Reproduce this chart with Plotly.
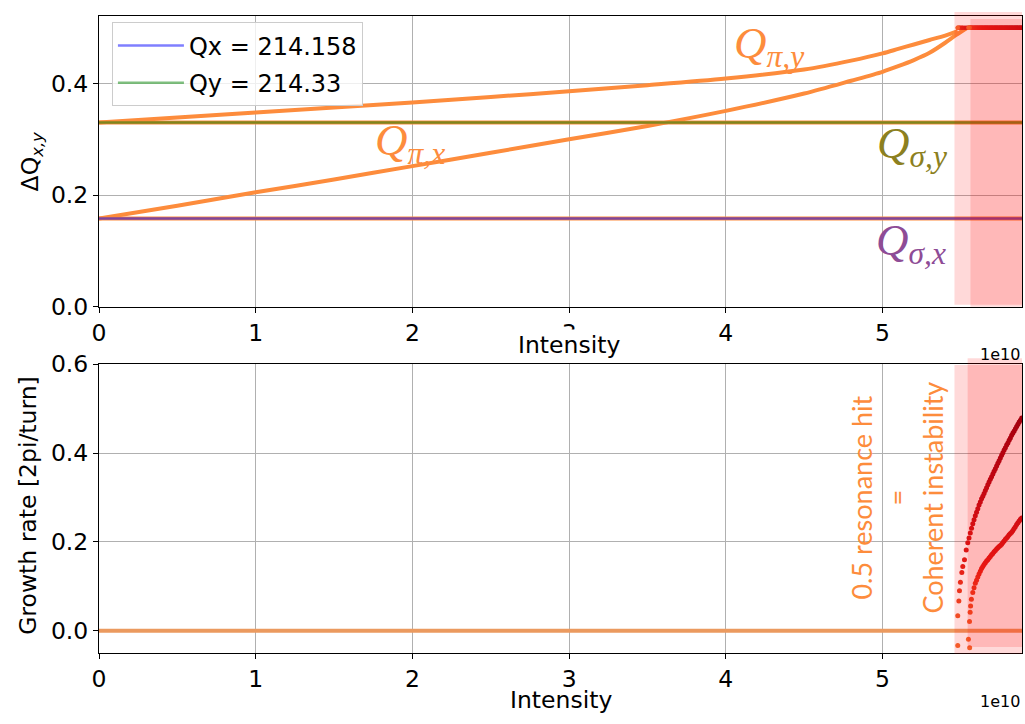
import plotly.graph_objects as go

# ---------------- data ----------------
# intensities in units of 1e10 particles
I_MAX = 5.89
span_I = [0.0, I_MAX]

# fractional tunes
Qx_frac = 0.158
Qy_frac = 0.33
RESONANCE = 0.5

# pi-mode tunes (stable branch)
qpi_y_I = [0.0, 0.5, 1.0, 1.5, 2.0, 2.5, 3.0, 3.5, 4.0, 4.5, 4.8, 5.0, 5.1, 5.2, 5.3, 5.4, 5.48]
qpi_y = [0.330, 0.339, 0.348, 0.357, 0.366, 0.376, 0.386, 0.397, 0.409, 0.425,
         0.441, 0.454, 0.462, 0.470, 0.478, 0.486, 0.494]

qpi_x_I = [0.0, 0.5, 1.0, 1.5, 2.0, 2.5, 3.0, 3.5, 4.0, 4.5, 4.8, 5.0, 5.1, 5.2, 5.3,
           5.4, 5.47, 5.54]
qpi_x = [0.158, 0.181, 0.205, 0.228, 0.252, 0.276, 0.300, 0.324, 0.351, 0.382,
         0.405, 0.421, 0.431, 0.442, 0.455, 0.473, 0.487, 0.500]

# growth rates of the unstable modes [2pi/turn]
upper_I = [5.480, 5.487, 5.491, 5.497, 5.506, 5.512, 5.523, 5.534, 5.544,
           5.552, 5.560, 5.568, 5.576, 5.584, 5.592, 5.600, 5.608, 5.616, 5.624,
           5.632, 5.640, 5.648, 5.656, 5.664, 5.672, 5.680, 5.688, 5.696, 5.704,
           5.712, 5.720, 5.728, 5.736, 5.744, 5.752, 5.760, 5.768, 5.776, 5.784,
           5.792, 5.800, 5.808, 5.816, 5.824, 5.832, 5.840, 5.848, 5.856, 5.864,
           5.872, 5.880, 5.888]
upper_rate = [0.034, 0.067, 0.090, 0.109, 0.131, 0.145, 0.160, 0.182, 0.198,
              0.209, 0.220, 0.231, 0.241, 0.250, 0.259, 0.267, 0.275, 0.283, 0.290,
              0.297, 0.303, 0.309, 0.316, 0.322, 0.329, 0.335, 0.341, 0.347, 0.353,
              0.359, 0.365, 0.371, 0.377, 0.383, 0.389, 0.395, 0.401, 0.407, 0.412,
              0.418, 0.423, 0.429, 0.434, 0.440, 0.445, 0.450, 0.455, 0.460, 0.465,
              0.470, 0.474, 0.479]

lower_I = [5.555, 5.559, 5.562, 5.567, 5.576,
           5.584, 5.592, 5.600, 5.608, 5.616, 5.624, 5.632, 5.640, 5.648, 5.656,
           5.664, 5.672, 5.680, 5.688, 5.696, 5.704, 5.712, 5.720, 5.728, 5.736,
           5.744, 5.752, 5.760, 5.768, 5.776, 5.784, 5.792, 5.800, 5.808, 5.816,
           5.824, 5.832, 5.840, 5.848, 5.856, 5.864, 5.872, 5.880, 5.888]
lower_rate = [0.021, 0.042, 0.056, 0.071, 0.086,
              0.097, 0.107, 0.114, 0.121, 0.128, 0.134, 0.140, 0.145, 0.149, 0.153,
              0.157, 0.160, 0.164, 0.167, 0.171, 0.174, 0.178, 0.181, 0.184, 0.187,
              0.190, 0.192, 0.195, 0.199, 0.202, 0.206, 0.209, 0.212, 0.216, 0.219,
              0.222, 0.226, 0.230, 0.234, 0.239, 0.243, 0.247, 0.251, 0.254]

damped_I = [5.480, 5.548, 5.556]
damped_rate = [-0.033, -0.019, -0.038]

# instability onset bands
band_light_I = 5.459
band_dark_top_I = 5.561
band_dark_bot_I = 5.543

# ---------------- styling ----------------
ORANGE = "#fd8c3c"
ORANGE_FLAT = "#eb9a5f"
BLUE_A = "rgba(0,0,255,0.5)"
GREEN_A = "rgba(0,128,0,0.5)"
RED_SCALE = [[0.0, "#f26b30"], [0.3, "#e0201a"], [0.6, "#b50d1c"], [1.0, "#7e0014"]]
FS = 23.5
TICK_FONT = dict(family="DejaVu Sans", size=FS, color="black")
Q_FONT = "Liberation Serif"

fig = go.Figure()

# --- top panel: tunes ---
for q in (Qx_frac, Qy_frac):
    fig.add_trace(go.Scatter(x=span_I, y=[q, q], mode="lines",
                             line=dict(color=ORANGE, width=4),
                             showlegend=False, hoverinfo="skip",
                             xaxis="x", yaxis="y"))
fig.add_trace(go.Scatter(x=qpi_y_I, y=qpi_y, mode="lines",
                         line=dict(color=ORANGE, width=4, shape="spline", smoothing=0.8),
                         showlegend=False, xaxis="x", yaxis="y"))
fig.add_trace(go.Scatter(x=qpi_x_I, y=qpi_x, mode="lines",
                         line=dict(color=ORANGE, width=4, shape="spline", smoothing=0.8),
                         showlegend=False, xaxis="x", yaxis="y"))
fig.add_trace(go.Scatter(x=span_I, y=[Qx_frac, Qx_frac], mode="lines",
                         line=dict(color=BLUE_A, width=2.5),
                         name="Qx = 214.158", legendgroup="qx",
                         xaxis="x", yaxis="y"))
fig.add_trace(go.Scatter(x=span_I, y=[Qy_frac, Qy_frac], mode="lines",
                         line=dict(color=GREEN_A, width=2.5),
                         name="Qy = 214.33", legendgroup="qy",
                         xaxis="x", yaxis="y"))

unstable_I = upper_I + lower_I + damped_I
unstable_rate = upper_rate + lower_rate + damped_rate
fig.add_trace(go.Scatter(x=unstable_I, y=[RESONANCE] * len(unstable_I), mode="markers",
                         marker=dict(size=4.5, color=unstable_rate, colorscale=RED_SCALE,
                                     cmin=0, cmax=0.5, line=dict(width=0)),
                         showlegend=False, xaxis="x", yaxis="y"))

# --- bottom panel: growth rates ---
fig.add_trace(go.Scatter(x=span_I, y=[0, 0], mode="lines",
                         line=dict(color=ORANGE_FLAT, width=4),
                         showlegend=False, xaxis="x2", yaxis="y2"))
for xs, ys in ((upper_I, upper_rate), (lower_I, lower_rate), (damped_I, damped_rate)):
    fig.add_trace(go.Scatter(x=xs, y=ys, mode="markers",
                             marker=dict(size=5, color=ys, colorscale=RED_SCALE,
                                         cmin=0, cmax=0.5, line=dict(width=0)),
                             showlegend=False, xaxis="x2", yaxis="y2"))

# shaded instability bands
band = dict(type="rect", fillcolor="rgba(255,0,0,0.15)", line=dict(width=0), layer="above")
fig.add_shape(**band, xref="x", yref="y domain", x0=band_light_I, x1=I_MAX, y0=0.007, y1=1.014)
fig.add_shape(**band, xref="x", yref="y domain", x0=band_dark_top_I, x1=I_MAX, y0=0.0, y1=0.99)
fig.add_shape(**band, xref="x2", yref="y2 domain", x0=band_light_I, x1=I_MAX, y0=-0.003, y1=0.997)
fig.add_shape(**band, xref="x2", yref="y2 domain", x0=band_dark_bot_I, x1=I_MAX, y0=0.021, y1=1.021)

axis_common = dict(showline=True, linecolor="black", linewidth=1, mirror=True,
                   ticks="outside", ticklen=5, tickcolor="black", tickfont=TICK_FONT,
                   showgrid=True, gridcolor="#b0b0b0", gridwidth=1, zeroline=False)

fig.update_layout(
    width=1025, height=724,
    margin=dict(l=99, r=2, t=11, b=71),
    paper_bgcolor="white", plot_bgcolor="white",
    xaxis=dict(**axis_common, domain=[0, 1], anchor="y", range=[0, I_MAX],
               tickvals=[0, 1, 2, 3, 4, 5]),
    yaxis=dict(**axis_common, domain=[0.5436, 1], anchor="x", range=[0, 0.521],
               tickvals=[0, 0.2, 0.4], tickformat=".1f"),
    xaxis2=dict(**axis_common, domain=[0, 1], anchor="y2", range=[0, I_MAX],
                tickvals=[0, 1, 2, 3, 4, 5]),
    yaxis2=dict(**axis_common, domain=[0, 0.4533], anchor="x2", range=[-0.05, 0.6],
                tickvals=[0, 0.2, 0.4, 0.6], tickformat=".1f"),
    legend=dict(x=0.014, y=0.99, xanchor="left", yanchor="top",
                bgcolor="rgba(255,255,255,0.8)", bordercolor="#cccccc", borderwidth=1,
                font=dict(family="DejaVu Sans", size=24, color="black"),
                itemwidth=66, tracegroupgap=3),
    showlegend=True,
)

# curve labels
labels = [
    ("<i>Q</i><sub><i>π,y</i></sub>", 4.273, 0.468, ORANGE),
    ("<i>Q</i><sub><i>π,x</i></sub>", 1.983, 0.294, ORANGE),
    ("<i>Q</i><sub><i>σ,y</i></sub>", 5.185, 0.288, "#8c8020"),
    ("<i>Q</i><sub><i>σ,x</i></sub>", 5.179, 0.114, "#8e4c96"),
]
for txt, xv, yv, col in labels:
    fig.add_annotation(text=txt, x=xv, y=yv, xref="x", yref="y", showarrow=False,
                       xanchor="center", yanchor="middle",
                       font=dict(family=Q_FONT, size=45, color=col))

# axis titles
TITLE_FONT = dict(family="DejaVu Sans", size=FS, color="black")
fig.add_annotation(text="Intensity", x=3.0, y=-0.13, xref="x", yref="y domain",
                   xanchor="center", yanchor="middle", showarrow=False,
                   bgcolor="white", borderpad=1, font=TITLE_FONT)
fig.add_annotation(text="Intensity", x=0.5, y=-0.162, xref="x2 domain", yref="y2 domain",
                   xanchor="center", yanchor="middle", showarrow=False, font=TITLE_FONT)
fig.add_annotation(text="ΔQ<sub><i>x,y</i></sub>", x=-0.0736, y=0.5, xref="paper",
                   yref="y domain", xanchor="center", yanchor="middle",
                   showarrow=False, textangle=-90, font=TITLE_FONT)
fig.add_annotation(text="Growth rate [2pi/turn]", x=-0.0768, y=0.51, xref="paper",
                   yref="y2 domain", xanchor="center", yanchor="middle",
                   showarrow=False, textangle=-90, font=TITLE_FONT)
# offset (exponent) labels
for yref, yv in (("y domain", -0.164), ("y2 domain", -0.168)):
    fig.add_annotation(text="1e10", x=1.0, y=yv, xref="paper", yref=yref,
                       xanchor="right", yanchor="middle", showarrow=False,
                       font=dict(family="DejaVu Sans", size=16, color="black"))

# instability note
fig.add_annotation(text="0.5 resonance hit<br>=<br>Coherent instability",
                   x=5.089, y=0.54, xref="x2", yref="y2 domain", showarrow=False,
                   xanchor="center", yanchor="middle", textangle=-90,
                   font=dict(family="Lato", size=27, color=ORANGE))

fig.write_html("out.html")
